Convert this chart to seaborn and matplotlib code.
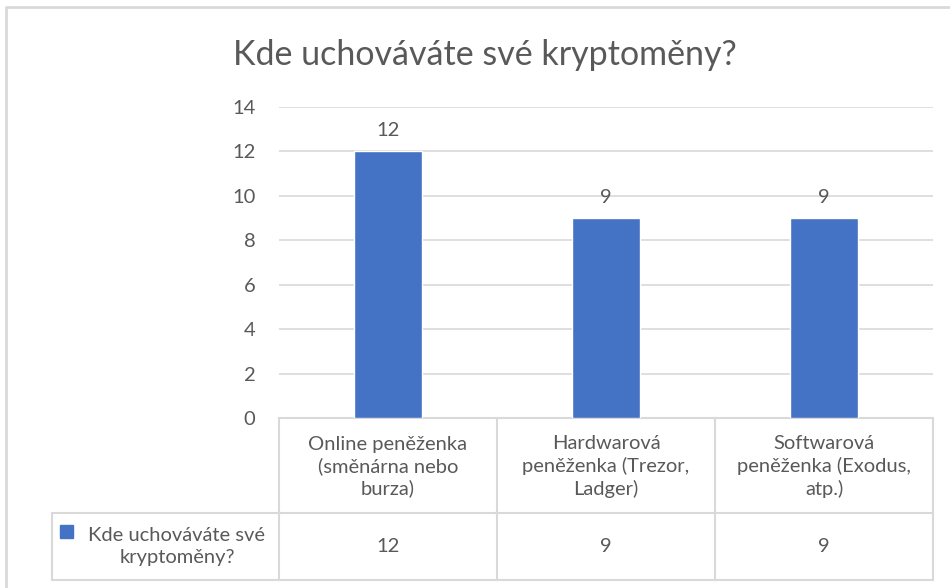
import matplotlib
matplotlib.use("Agg")
import matplotlib.pyplot as plt
import matplotlib.transforms as mtransforms
import seaborn as sns
import pandas as pd

# data
categories = ["Online peněženka\n(směnárna nebo\nburza)",
              "Hardwarová\npeněženka (Trezor,\nLadger)",
              "Softwarová\npeněženka (Exodus,\natp.)"]
values = [12, 9, 9]
series_name = "Kde uchováváte své kryptoměny?"
series_label = "Kde uchováváte své\nkryptoměny?"
yticks = [0, 2, 4, 6, 8, 10, 12, 14]

sns.set_theme(style="white")
plt.rcParams['font.family'] = ['Lato', 'DejaVu Sans']

W, H = 950, 588
fig = plt.figure(figsize=(W / 100, H / 100), dpi=100)
txt = "#595959"
grid = "#D9D9D9"
bar_color = "#4472C4"
fs = 14.5

# overlay axes in pixel coords for border / table
ov = fig.add_axes([0, 0, 1, 1])
ov.set_xlim(0, W)
ov.set_ylim(H, 0)
ov.axis("off")

# main plot area
px_l, px_r, px_t, px_b = 279, 933, 107, 418
ax = fig.add_axes([px_l / W, 1 - px_b / H, (px_r - px_l) / W, (px_b - px_t) / H])
df = pd.DataFrame({"cat": range(len(values)), "val": values})
sns.barplot(data=df, x="cat", y="val", color=bar_color, width=0.31,
            saturation=1, ax=ax, zorder=3)
ax.set_xlim(-0.5, len(values) - 0.5)
ax.set_ylim(0, 14)
ax.set_yticks(yticks)
ax.set_yticklabels([str(t) for t in yticks], fontsize=fs, color=txt)
ax.tick_params(axis="y", length=0, pad=17)
ax.set_xticks([])
ax.set_xlabel("")
ax.set_ylabel("")
for t in yticks:
    ax.axhline(t, color=grid, lw=1.2, zorder=1)
for s in ax.spines.values():
    s.set_visible(False)
ax.patch.set_alpha(0)
ax.bar_label(ax.containers[0], labels=[str(v) for v in values],
             padding=9, fontsize=fs, color=txt)

# title
fig.text(485 / W, 1 - 55 / H, series_name, ha="center", va="center",
         fontsize=24.5, color=txt)

# outer border (left and top visible)
ov.plot([6, 6, W + 5], [H + 5, 7, 7], color="#D9D9D9", lw=2, clip_on=False)

# data table
bt = mtransforms.blended_transform_factory(ax.transData, ov.transData)
row_top, row_mid, row_bot = 418, 513, 580
left_edge = 52
edges = [i - 0.5 for i in range(len(values) + 1)]
tc = "#D9D9D9"
for e in edges:
    ov.plot([e, e], [row_top, row_bot], color=tc, lw=1.5, transform=bt, clip_on=False)
ov.plot([edges[0], edges[-1]], [row_top, row_top], color=tc, lw=1.5, transform=bt)
ov.plot([left_edge, left_edge], [row_mid, row_bot], color=tc, lw=1.5)
ov.plot([left_edge, px_r], [row_mid, row_mid], color=tc, lw=1.5)
ov.plot([left_edge, px_r], [row_bot, row_bot], color=tc, lw=1.5)

for i, (c, v) in enumerate(zip(categories, values)):
    ov.text(i, (row_top + row_mid) / 2 + 1, c, transform=bt, ha="center", va="center",
            fontsize=fs, color=txt, linespacing=1.3)
    ov.text(i, (row_mid + row_bot) / 2, str(v), transform=bt, ha="center",
            va="center", fontsize=fs, color=txt)

ov.add_patch(plt.Rectangle((60, 525), 13, 13, color=bar_color))
ov.text(177, (row_mid + row_bot) / 2, series_label, ha="center", va="center",
        fontsize=fs, color=txt, linespacing=1.3)

fig.savefig("out.png", dpi=100)
